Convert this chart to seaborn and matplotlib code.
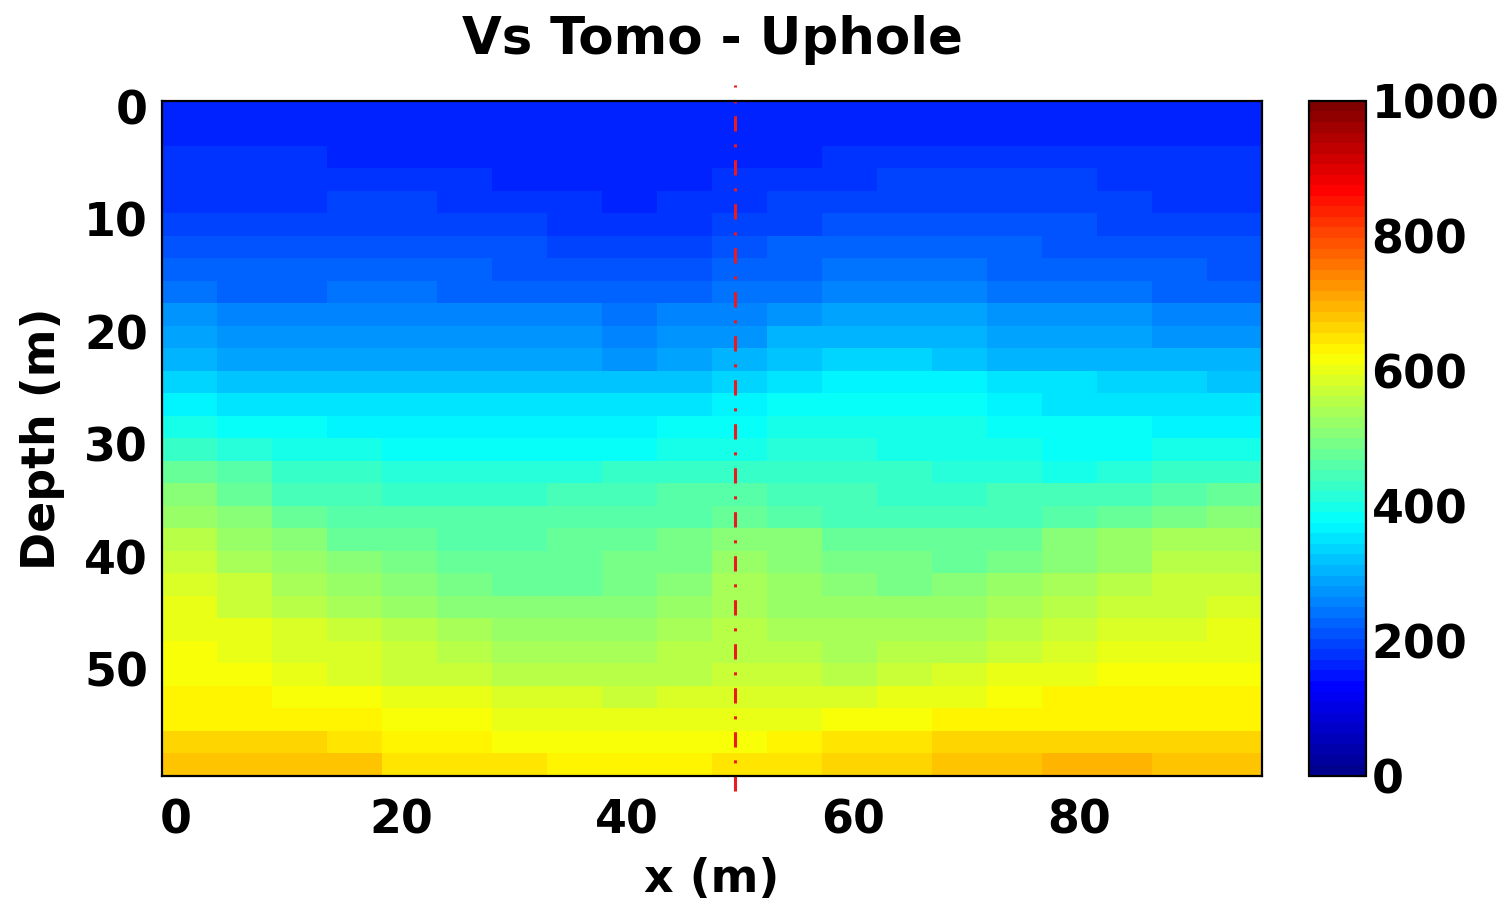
import numpy as np
import pandas as pd
import matplotlib
matplotlib.use("Agg")
import matplotlib.pyplot as plt
from matplotlib.colors import LinearSegmentedColormap
import seaborn as sns

# Lateral cell centres (m) and depth cell centres (m) of the tomography grid
x_cells = [1.22, 6.09, 10.96, 15.83, 20.71, 25.58, 30.45, 35.32, 40.20, 45.07,
           49.94, 54.81, 59.68, 64.56, 69.43, 74.30, 79.17, 84.05, 88.92, 93.79]
depth_cells = [0.5, 2.5, 4.5, 6.5, 8.5, 10.5, 12.5, 14.5, 16.5, 18.5,
               20.5, 22.5, 24.5, 26.5, 28.5, 30.5, 32.5, 34.5, 36.5, 38.5,
               40.5, 42.5, 44.5, 46.5, 48.5, 50.5, 52.5, 54.5, 56.5, 58.5]

# Shear-wave velocity (m/s), one row per depth cell
vs_rows = [
    [168, 168, 168, 167, 166, 162, 159, 157, 157, 157, 160, 164, 167, 170, 170, 170, 170, 170, 170, 170],
    [169, 169, 168, 167, 166, 162, 159, 157, 157, 157, 160, 165, 168, 171, 171, 171, 171, 171, 171, 171],
    [172, 172, 172, 170, 169, 165, 161, 159, 159, 160, 162, 169, 172, 175, 177, 177, 175, 174, 172, 172],
    [176, 176, 180, 182, 180, 174, 168, 165, 164, 167, 174, 182, 186, 190, 191, 191, 188, 180, 177, 177],
    [182, 177, 184, 188, 188, 182, 176, 172, 170, 174, 182, 190, 195, 200, 201, 201, 198, 190, 186, 184],
    [194, 190, 194, 198, 198, 194, 188, 184, 184, 186, 194, 201, 206, 210, 218, 218, 208, 200, 196, 196],
    [208, 206, 208, 212, 212, 210, 206, 200, 198, 200, 210, 220, 224, 226, 226, 222, 218, 212, 208, 206],
    [224, 220, 222, 224, 224, 222, 218, 212, 210, 212, 222, 234, 238, 238, 238, 234, 230, 224, 220, 218],
    [240, 234, 234, 237, 237, 234, 230, 224, 222, 225, 236, 248, 252, 252, 252, 248, 244, 238, 234, 232],
    [268, 260, 260, 260, 260, 260, 258, 250, 246, 250, 262, 278, 282, 282, 282, 276, 272, 266, 262, 260],
    [285, 276, 275, 275, 276, 276, 274, 266, 262, 266, 278, 298, 305, 306, 304, 294, 288, 282, 278, 276],
    [304, 292, 290, 290, 292, 294, 295, 288, 280, 284, 300, 326, 329, 329, 326, 312, 308, 302, 298, 298],
    [336, 326, 324, 324, 324, 322, 321, 321, 318, 320, 334, 358, 364, 364, 361, 348, 344, 336, 330, 328],
    [369, 359, 349, 346, 346, 344, 344, 346, 354, 359, 369, 382, 384, 384, 382, 366, 359, 352, 346, 344],
    [399, 384, 376, 372, 370, 368, 366, 368, 374, 379, 382, 396, 399, 398, 394, 384, 380, 376, 374, 372],
    [436, 416, 401, 391, 386, 384, 382, 384, 388, 392, 398, 414, 410, 404, 400, 392, 388, 390, 396, 398],
    [482, 460, 432, 422, 418, 416, 416, 420, 426, 430, 427, 432, 427, 422, 416, 408, 406, 412, 424, 432],
    [504, 482, 452, 440, 436, 434, 434, 440, 448, 454, 457, 450, 440, 436, 436, 438, 442, 452, 468, 482],
    [524, 502, 482, 464, 458, 456, 456, 460, 464, 468, 480, 462, 452, 448, 448, 452, 464, 478, 498, 512],
    [552, 527, 507, 482, 472, 468, 468, 474, 480, 488, 510, 500, 482, 474, 474, 484, 502, 517, 534, 544],
    [568, 544, 524, 502, 488, 478, 474, 478, 486, 496, 522, 512, 496, 486, 484, 498, 514, 530, 548, 558],
    [582, 564, 544, 522, 504, 492, 482, 484, 498, 512, 534, 520, 506, 498, 502, 520, 536, 552, 564, 574],
    [594, 578, 562, 542, 524, 510, 502, 502, 512, 522, 544, 530, 522, 516, 520, 538, 552, 568, 578, 584],
    [604, 594, 580, 566, 550, 536, 528, 526, 530, 536, 552, 544, 532, 536, 544, 562, 574, 584, 592, 598],
    [610, 604, 592, 580, 566, 554, 546, 542, 544, 548, 562, 556, 546, 550, 558, 576, 588, 598, 604, 608],
    [616, 612, 602, 592, 578, 566, 558, 554, 556, 562, 576, 568, 560, 568, 580, 596, 604, 610, 614, 616],
    [626, 626, 622, 616, 606, 596, 586, 580, 578, 582, 590, 586, 588, 596, 606, 618, 626, 630, 632, 632],
    [636, 634, 632, 628, 622, 610, 602, 596, 594, 596, 602, 604, 612, 616, 626, 632, 638, 640, 640, 640],
    [658, 658, 658, 656, 638, 634, 622, 618, 616, 616, 618, 630, 642, 652, 660, 668, 670, 668, 666, 666],
    [684, 684, 684, 684, 656, 654, 642, 640, 640, 640, 642, 650, 660, 665, 674, 678, 690, 690, 680, 680],
]

x_ticks = [0, 20, 40, 60, 80]
depth_ticks = [0, 10, 20, 30, 40, 50]
cbar_ticks = [0, 200, 400, 600, 800, 1000]
uphole_x = 49.5

sns.set_theme(style="white")
plt.rcParams["font.family"] = ["DejaVu Sans"]
plt.rcParams["font.weight"] = "bold"

# MATLAB-style jet with 64 levels
jet64 = LinearSegmentedColormap.from_list(
    "jet64",
    [(0.0, (0.0, 0.0, 0.5625)), (0.125, (0.0, 0.0, 1.0)), (0.375, (0.0, 1.0, 1.0)),
     (0.625, (1.0, 1.0, 0.0)), (0.875, (1.0, 0.0, 0.0)), (1.0, (0.5, 0.0, 0.0))],
    N=64,
)

fig = plt.figure(figsize=(15.07, 9.10), dpi=100)
fig.patch.set_facecolor("white")
ax = fig.add_axes([0.1075, 0.1473, 0.7299, 0.7418])
cax = fig.add_axes([0.8686, 0.1473, 0.0378, 0.7418])

df = pd.DataFrame(vs_rows, index=depth_cells, columns=x_cells)
sns.heatmap(df, ax=ax, cbar_ax=cax, cmap=jet64, vmin=0, vmax=1000,
            xticklabels=False, yticklabels=False,
            cbar_kws={"ticks": cbar_ticks})


def cell_edges(c):
    c = np.asarray(c, float)
    mid = (c[1:] + c[:-1]) / 2
    return np.concatenate([[2 * c[0] - mid[0]], mid, [2 * c[-1] - mid[-1]]])


xe = cell_edges(x_cells)
de = cell_edges(depth_cells)


def to_col(v):
    return np.interp(v, xe, np.arange(len(xe)))


def to_row(v):
    return np.interp(v, de, np.arange(len(de)))


label_fs = 33
ax.set_xticks(to_col(x_ticks))
ax.set_xticklabels([str(t) for t in x_ticks])
ax.set_yticks(to_row(depth_ticks))
ax.set_yticklabels([str(t) for t in depth_ticks], rotation=0)
ax.tick_params(axis="both", direction="in", length=8, width=1.6, color="black",
               top=True, right=True, bottom=True, left=True,
               labelsize=label_fs, labelcolor="black")
ax.tick_params(axis="x", pad=16)
ax.tick_params(axis="y", pad=10)
for lab in ax.get_xticklabels() + ax.get_yticklabels():
    lab.set_fontweight("bold")

for sp in ax.spines.values():
    sp.set_visible(True)
    sp.set_color("black")
    sp.set_linewidth(1.6)

# Uphole location
ax.axvline(to_col(uphole_x), ymin=-0.022, ymax=1.024, color=(0.92, 0.1, 0.12),
           lw=2.2, dashes=(5.0, 4.2, 1.0, 4.2), clip_on=False)

ax.set_title("Vs Tomo - Uphole", fontsize=37, fontweight="bold", pad=34, color="black")
ax.set_xlabel("x (m)", fontsize=label_fs, fontweight="bold", labelpad=10, color="black")
ax.set_ylabel("Depth (m)", fontsize=label_fs, fontweight="bold", labelpad=14, color="black")

cbar = ax.collections[0].colorbar
cbar.outline.set_edgecolor("black")
cbar.outline.set_linewidth(1.6)
cbar.set_ticklabels([str(t) for t in cbar_ticks])
cax.tick_params(direction="in", length=7, width=1.5, color="black",
                left=True, right=True, labelsize=label_fs, pad=4, labelcolor="black")
for lab in cax.get_yticklabels():
    lab.set_fontweight("bold")

fig.savefig("out.png", dpi=100, facecolor="white")
